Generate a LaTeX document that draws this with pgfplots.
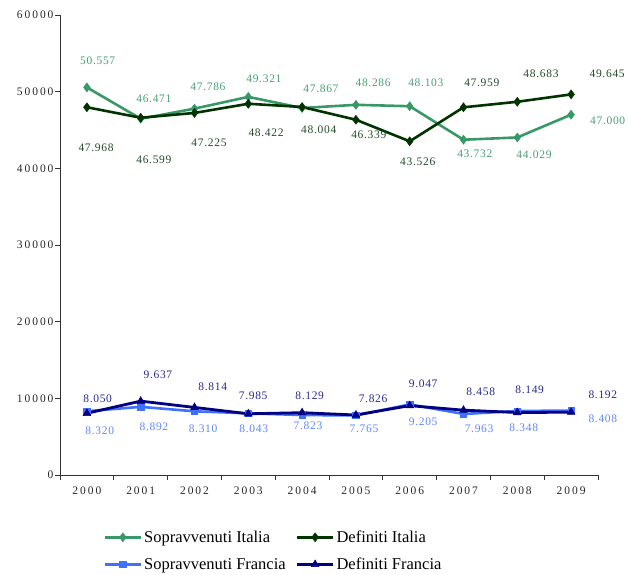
\documentclass[border=0pt]{standalone}
\usepackage{pgfplots}
\pgfplotsset{compat=1.18}
\usepackage{fontspec}
\setmainfont{Liberation Serif}
\newfontfamily\spacedfont[LetterSpace=17]{Liberation Serif}
\newfontfamily\lblfont[LetterSpace=6]{Liberation Serif}
\definecolor{siC}{RGB}{56,152,104}
\definecolor{diC}{RGB}{0,51,0}
\definecolor{sfC}{RGB}{64,112,255}
\definecolor{dfC}{RGB}{0,0,128}
\definecolor{siT}{RGB}{70,160,115}
\definecolor{diT}{RGB}{35,75,40}
\definecolor{sfT}{RGB}{95,135,255}
\definecolor{dfT}{RGB}{40,40,140}
\pgfplotsset{
  lbl/.style={draw=none, mark=none, forget plot, nodes near coords, point meta=explicit symbolic,
    every node near coord/.append style={anchor=center, inner sep=0pt, text=#1, font=\lblfont\fontsize{11.5}{13}\selectfont}},
}
\begin{document}
\begin{tikzpicture}
\useasboundingbox (-60pt,-99pt) rectangle (568pt,475pt);
\begin{axis}[
  at={(0,0)}, anchor=south west,
  scale only axis, width=538pt, height=460pt,
  xmin=1999.5, xmax=2009.5, ymin=0, ymax=60000,
  clip=false,
  axis lines*=left,
  axis line style={black!80, line width=0.8pt},
  tick align=outside,
  tick style={black!80, line width=0.8pt},
  major tick length=5pt,
  xtick={1999.5,2000.5,...,2009.5}, xticklabels={},
  extra x ticks={2000,2001,...,2009},
  extra x tick labels={2000,2001,2002,2003,2004,2005,2006,2007,2008,2009},
  extra x tick style={major tick length=0pt, tick label style={yshift=-8pt}},
  scaled y ticks=false,
  ytick={0,10000,...,60000},
  yticklabels={0,10000,20000,30000,40000,50000,60000},
  yticklabel style={xshift=2pt},
  /pgf/number format/assume math mode=true,
  tick label style={font=\spacedfont\fontsize{11.5}{13}\selectfont, text=black!85},
  legend columns=2,
  legend cell align=left,
  legend style={draw=none, fill=none, at={(0.075,-0.112)}, anchor=north west,
    font=\fontsize{16.5}{18}\selectfont, row sep=10pt,
    /tikz/every even column/.append style={column sep=8pt}},
  legend image code/.code={\draw[mark repeat=2,mark phase=2] plot coordinates {(0pt,0pt) (18pt,0pt) (36pt,0pt)};},
]
\addplot[siC, line width=2.6pt, mark=diamond*, mark size=4.5pt, mark options={line width=0.5pt}] coordinates {
(2000,50557)(2001,46471)(2002,47786)(2003,49321)(2004,47867)(2005,48286)(2006,48103)(2007,43732)(2008,44029)(2009,47000)};
\addlegendentry{Sopravvenuti Italia}
\addplot[diC, line width=2.6pt, mark=diamond*, mark size=4.5pt, mark options={line width=0.5pt}] coordinates {
(2000,47968)(2001,46599)(2002,47225)(2003,48422)(2004,48004)(2005,46339)(2006,43526)(2007,47959)(2008,48683)(2009,49645)};
\addlegendentry{Definiti Italia}
\addplot[sfC, line width=2.6pt, mark=square*, mark size=3.2pt, mark options={line width=0.5pt}] coordinates {
(2000,8320)(2001,8892)(2002,8310)(2003,8043)(2004,7823)(2005,7765)(2006,9205)(2007,7963)(2008,8348)(2009,8408)};
\addlegendentry{Sopravvenuti Francia}
\addplot[dfC, line width=2.8pt, mark=triangle*, mark size=4.5pt, mark options={line width=0.5pt}] coordinates {
(2000,8050)(2001,9637)(2002,8814)(2003,7985)(2004,8129)(2005,7826)(2006,9047)(2007,8458)(2008,8149)(2009,8192)};
\addlegendentry{Definiti Francia}

\addplot[lbl=siT] table[meta=l] {
x y l
2000.20 53986 50.557
2001.245 49030 46.471
2002.25 50595 47.786
2003.29 51638 49.321
2004.35 50334 47.867
2005.32 51117 48.286
2006.30 51117 48.103
2007.21 41858 43.732
2008.31 41728 44.029
2009.68 46162 47.000
};
\addplot[lbl=diT] table[meta=l] {
x y l
2000.17 42641 47.968
2001.245 41076 46.599
2002.27 43293 47.225
2003.33 44597 48.422
2004.31 44988 48.004
2005.24 44336 46.339
2006.15 40815 43.526
2007.34 51117 47.959
2008.44 52290 48.683
2009.67 52290 49.645
};
\addplot[lbl=dfT] table[meta=l] {
x y l
2000.20 9910 8.050
2001.32 13040 9.637
2002.34 11475 8.814
2003.09 10302 7.985
2004.14 10302 8.129
2005.32 9910 7.826
2006.25 11866 9.047
2007.32 10823 8.458
2008.23 11084 8.149
2009.59 10432 8.192
};
\addplot[lbl=sfT] table[meta=l] {
x y l
2000.24 5738 8.320
2001.245 6259 8.892
2002.16 5998 8.310
2003.10 5998 8.043
2004.11 6390 7.823
2005.15 5998 7.765
2006.25 6911 9.205
2007.29 5998 7.963
2008.12 6129 8.348
2009.59 7302 8.408
};
\end{axis}
\end{tikzpicture}
\end{document}
